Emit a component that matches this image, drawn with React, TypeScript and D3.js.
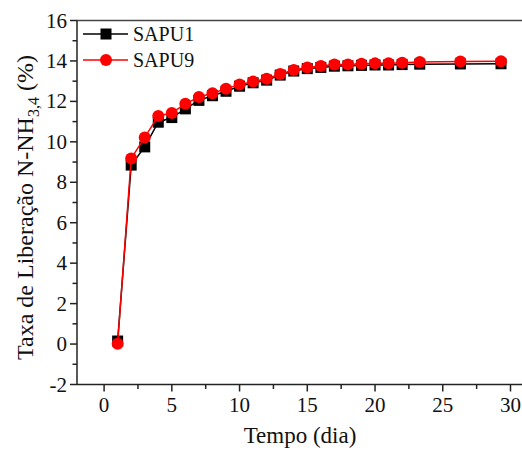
import React from "react";
import * as d3 from "d3";

const days = [1, 2, 3, 4, 5, 6, 7, 8, 9, 10, 11, 12, 13, 14, 15, 16, 17, 18, 19, 20, 21, 22, 23.3, 26.3, 29.3];
const sapu1 = [0.15, 8.85, 9.75, 10.97, 11.2, 11.63, 12.05, 12.28, 12.5, 12.75, 12.92, 13.05, 13.3, 13.5, 13.62, 13.68, 13.74, 13.76, 13.78, 13.8, 13.8, 13.82, 13.84, 13.85, 13.86];
const sapu9 = [0.02, 9.18, 10.22, 11.28, 11.43, 11.88, 12.22, 12.4, 12.63, 12.83, 12.98, 13.12, 13.35, 13.55, 13.68, 13.75, 13.82, 13.83, 13.86, 13.88, 13.89, 13.91, 13.95, 13.97, 13.99];
const seriesNames = ["SAPU1", "SAPU9"];
const xMajorTicks = [0, 5, 10, 15, 20, 25, 30];
const xMinorTicks = [2.5, 7.5, 12.5, 17.5, 22.5, 27.5];
const yMajorTicks = [-2, 0, 2, 4, 6, 8, 10, 12, 14, 16];
const yMinorTicks = [-1, 1, 3, 5, 7, 9, 11, 13, 15];

const FONT = "'Liberation Serif', 'Times New Roman', serif";

export default function App() {
  const W = 522, H = 451;
  const x = d3.scaleLinear().domain([-2, 30]).range([77, 510.5]);
  const y = d3.scaleLinear().domain([-2, 16]).range([384.5, 20.5]);
  const line = d3.line<number>().x((_, i) => x(days[i])).y((v) => y(v));
  const axisColor = "#222";
  const axisY = y(-2);
  const axisX = x(-2);

  return (
    <svg width={W} height={H} style={{ position: "absolute", left: 0, top: 0, background: "#fff" }} fontFamily={FONT}>
      {/* top frame line */}
      <line x1={axisX} x2={W} y1={y(16)} y2={y(16)} stroke="#444" strokeWidth={1.5} />
      {/* x axis */}
      <line x1={axisX} x2={W} y1={axisY} y2={axisY} stroke={axisColor} strokeWidth={1.5} />
      {xMajorTicks.map((t) => (
        <g key={"xm" + t}>
          <line x1={x(t)} x2={x(t)} y1={axisY} y2={axisY + 7} stroke={axisColor} strokeWidth={1.5} />
          <text x={x(t)} y={412} textAnchor="middle" fontSize={21} fill="#111">{t}</text>
        </g>
      ))}
      {xMinorTicks.map((t) => (
        <line key={"xn" + t} x1={x(t)} x2={x(t)} y1={axisY} y2={axisY + 4.5} stroke={axisColor} strokeWidth={1.5} />
      ))}
      {/* y axis */}
      <line x1={axisX} x2={axisX} y1={y(16)} y2={axisY} stroke={axisColor} strokeWidth={1.5} />
      {yMajorTicks.map((t) => (
        <g key={"ym" + t}>
          <line x1={axisX - 7} x2={axisX} y1={y(t)} y2={y(t)} stroke={axisColor} strokeWidth={1.5} />
          <text x={67} y={y(t) + 7} textAnchor="end" fontSize={21} fill="#111">{t}</text>
        </g>
      ))}
      {yMinorTicks.map((t) => (
        <line key={"yn" + t} x1={axisX - 4.5} x2={axisX} y1={y(t)} y2={y(t)} stroke={axisColor} strokeWidth={1.5} />
      ))}
      {/* axis titles */}
      <text x={300} y={443} textAnchor="middle" fontSize={23} fill="#111">Tempo (dia)</text>
      <text transform={`translate(33,${(47 + 368) / 2}) rotate(-90)`} textAnchor="middle" fontSize={24} fill="#111">
        Taxa de Liberação N-NH<tspan fontSize={16} dy={6}>3,4</tspan><tspan dy={-6} dx={6}>(%)</tspan>
      </text>
      {/* SAPU1 */}
      <path d={line(sapu1) || ""} fill="none" stroke="#000" strokeWidth={1.5} />
      {sapu1.map((v, i) => (
        <rect key={"s1" + i} x={x(days[i]) - 5.5} y={y(v) - 5.5} width={11} height={11} fill="#000" />
      ))}
      {/* SAPU9 */}
      <path d={line(sapu9) || ""} fill="none" stroke="#f00" strokeWidth={1.5} />
      {sapu9.map((v, i) => (
        <circle key={"s9" + i} cx={x(days[i])} cy={y(v)} r={6} fill="#f00" />
      ))}
      {/* legend */}
      <g>
        <line x1={83} x2={128} y1={34} y2={34} stroke="#000" strokeWidth={1.5} />
        <rect x={106 - 5.5} y={34 - 5.5} width={11} height={11} fill="#000" />
        <text x={133} y={41} fontSize={20} fill="#111">{seriesNames[0]}</text>
        <line x1={83} x2={128} y1={60} y2={60} stroke="#f00" strokeWidth={1.5} />
        <circle cx={106} cy={60} r={6} fill="#f00" />
        <text x={133} y={67} fontSize={20} fill="#111">{seriesNames[1]}</text>
      </g>
    </svg>
  );
}
